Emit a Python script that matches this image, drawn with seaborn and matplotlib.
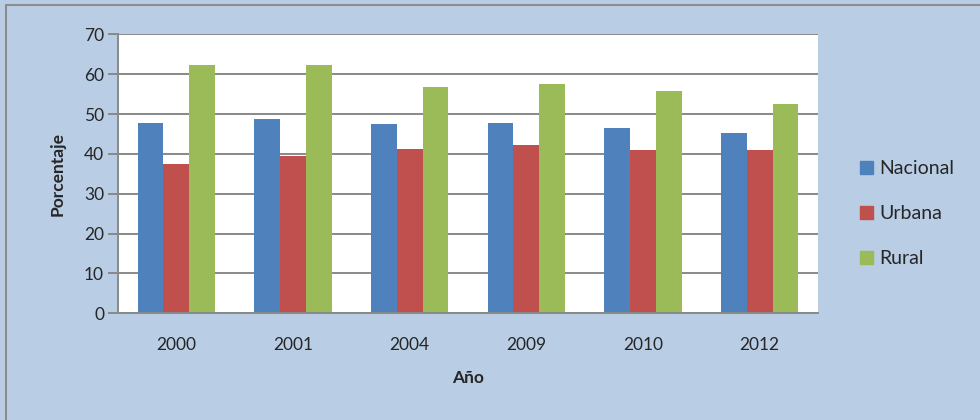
import pandas as pd
import seaborn as sns
import matplotlib.pyplot as plt
from matplotlib.lines import Line2D

# Datos
years = ["2000", "2001", "2004", "2009", "2010", "2012"]
nacional = [47.8, 48.9, 47.4, 47.8, 46.6, 45.2]
urbana = [37.6, 39.4, 41.2, 42.2, 41.0, 40.9]
rural = [62.3, 62.4, 56.8, 57.5, 55.8, 52.5]
series = ["Nacional", "Urbana", "Rural"]
colors = ["#4F81BD", "#C0504D", "#9BBB59"]

df = pd.DataFrame({"Año": years, "Nacional": nacional, "Urbana": urbana, "Rural": rural})
df_long = df.melt(id_vars="Año", var_name="Zona", value_name="Porcentaje")

sns.set_style("white")
plt.rcParams["font.family"] = ["Lato", "DejaVu Sans"]

bg = "#B9CDE5"
fig = plt.figure(figsize=(9.8, 4.2), dpi=100, facecolor=bg)
ax = fig.add_axes([0.1204, 0.254, 0.7143, 0.664])

sns.barplot(data=df_long, x="Año", y="Porcentaje", hue="Zona", hue_order=series,
            palette=colors, width=0.663, gap=0, saturation=1, linewidth=0, legend=False, ax=ax)

ax.set_ylim(0, 70)
ax.set_yticks(range(0, 71, 10))
ax.set_xlim(-0.5, len(years) - 0.5)
ax.yaxis.grid(True, color="#898989", linewidth=1.4)
ax.set_axisbelow(True)
for side in ["top", "right"]:
    ax.spines[side].set_visible(False)
for side in ["left", "bottom"]:
    ax.spines[side].set_color("#898989")
    ax.spines[side].set_linewidth(1.4)
ax.tick_params(axis="y", length=7, width=1.4, color="#898989", labelsize=12.5, pad=3, direction="out", left=True)
ax.tick_params(axis="x", length=0, labelsize=12.5, pad=17)
ax.set_ylabel("Porcentaje", fontsize=12.5, fontweight="bold", labelpad=13)
ax.set_xlabel("Año", fontsize=12.5, fontweight="bold", labelpad=12)

# Leyenda a la derecha
handles = [plt.Rectangle((0, 0), 1, 1, color=c) for c in colors]
fig.legend(handles, series, loc="center left", bbox_to_anchor=(0.860, 0.491), frameon=False,
           fontsize=14, handlelength=0.65, handleheight=0.65, handletextpad=0.35, labelspacing=1.45)

# Borde exterior del gráfico
fig.add_artist(Line2D([6 / 980, 1], [1 - 5 / 420, 1 - 5 / 420], color="#8C8C8C", linewidth=1.5,
                      transform=fig.transFigure))
fig.add_artist(Line2D([6 / 980, 6 / 980], [0, 1 - 5 / 420], color="#8C8C8C", linewidth=1.5,
                      transform=fig.transFigure))

fig.savefig("out.png", dpi=100, facecolor=bg)
